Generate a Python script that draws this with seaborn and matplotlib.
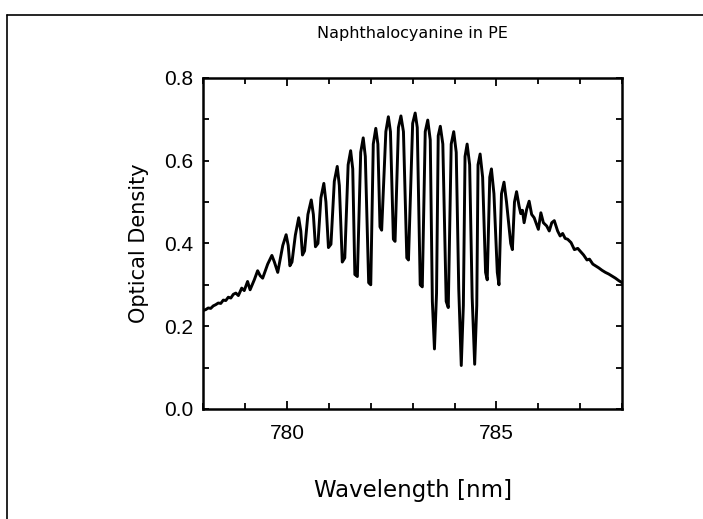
import numpy as np
import pandas as pd
import matplotlib
matplotlib.use('Agg')
import matplotlib.pyplot as plt
from matplotlib.lines import Line2D
from matplotlib.ticker import MultipleLocator, FormatStrFormatter
import seaborn as sns

# spectrum (hole-burning pattern)
wavelength = [
    778.00, 778.06, 778.12, 778.18, 778.24, 778.30, 778.36, 778.42, 778.48, 778.54,
    778.60, 778.66, 778.72, 778.78, 778.84, 778.92, 778.98, 779.06, 779.12, 779.22,
    779.30, 779.36, 779.42, 779.54, 779.64, 779.70, 779.78, 779.90, 779.98, 780.03,
    780.07, 780.12, 780.20, 780.28, 780.33, 780.37, 780.42, 780.50, 780.58, 780.63,
    780.68, 780.74, 780.81, 780.88, 780.93, 780.99, 781.05, 781.13, 781.20, 781.25,
    781.32, 781.38, 781.46, 781.52, 781.57, 781.62, 781.68, 781.76, 781.82, 781.87,
    781.95, 782.00, 782.06, 782.12, 782.17, 782.22, 782.26, 782.36, 782.42, 782.47,
    782.54, 782.58, 782.66, 782.72, 782.78, 782.86, 782.90, 783.00, 783.06, 783.11,
    783.18, 783.23, 783.30, 783.36, 783.42, 783.47, 783.52, 783.57, 783.61, 783.66,
    783.72, 783.80, 783.85, 783.92, 783.98, 784.04, 784.10, 784.16, 784.21, 784.25,
    784.30, 784.36, 784.42, 784.48, 784.53, 784.56, 784.61, 784.67, 784.74, 784.78,
    784.84, 784.88, 784.94, 785.02, 785.06, 785.12, 785.18, 785.24, 785.34, 785.38,
    785.43, 785.48, 785.54, 785.58, 785.62, 785.66, 785.72, 785.78, 785.84, 785.90,
    785.96, 786.00, 786.06, 786.12, 786.20, 786.26, 786.32, 786.38, 786.46, 786.52,
    786.58, 786.64, 786.70, 786.78, 786.86, 786.94, 787.00, 787.08, 787.16, 787.22,
    787.30, 787.38, 787.44, 787.52, 787.60, 787.68, 787.76, 787.84, 787.92, 788.00,
]
optical_density = [
    0.238, 0.240, 0.244, 0.243, 0.249, 0.252, 0.256, 0.255, 0.263, 0.262,
    0.270, 0.268, 0.277, 0.280, 0.274, 0.292, 0.286, 0.308, 0.288, 0.312,
    0.334, 0.322, 0.316, 0.350, 0.371, 0.355, 0.330, 0.395, 0.421, 0.395,
    0.346, 0.355, 0.420, 0.462, 0.430, 0.372, 0.382, 0.470, 0.505, 0.470,
    0.392, 0.400, 0.510, 0.545, 0.500, 0.390, 0.398, 0.550, 0.586, 0.540,
    0.355, 0.365, 0.590, 0.624, 0.580, 0.325, 0.320, 0.620, 0.655, 0.610,
    0.305, 0.300, 0.640, 0.678, 0.640, 0.440, 0.432, 0.670, 0.706, 0.670,
    0.410, 0.405, 0.680, 0.708, 0.670, 0.365, 0.360, 0.690, 0.715, 0.680,
    0.300, 0.295, 0.670, 0.698, 0.650, 0.260, 0.145, 0.280, 0.660, 0.683,
    0.640, 0.260, 0.245, 0.640, 0.670, 0.620, 0.290, 0.105, 0.250, 0.610,
    0.640, 0.590, 0.270, 0.108, 0.250, 0.590, 0.616, 0.560, 0.330, 0.312,
    0.560, 0.580, 0.520, 0.330, 0.300, 0.520, 0.548, 0.500, 0.400, 0.385,
    0.500, 0.525, 0.490, 0.472, 0.480, 0.450, 0.482, 0.502, 0.470, 0.462,
    0.445, 0.434, 0.474, 0.450, 0.442, 0.430, 0.450, 0.455, 0.430, 0.418,
    0.424, 0.412, 0.410, 0.402, 0.385, 0.388, 0.381, 0.372, 0.360, 0.362,
    0.350, 0.345, 0.341, 0.335, 0.330, 0.326, 0.321, 0.316, 0.310, 0.305,
]

title = 'Naphthalocyanine in PE'
x_label = 'Wavelength [nm]'
y_label = 'Optical Density'

sns.set_style('ticks')
plt.rcParams['font.family'] = ['DejaVu Sans']
plt.rcParams['text.color'] = 'black'
plt.rcParams['axes.labelcolor'] = 'black'

df = pd.DataFrame({'wl': wavelength, 'od': optical_density})

fig = plt.figure(figsize=(7.03, 5.19), dpi=100)
ax = fig.add_axes([0.289, 0.212, 0.596, 0.638])

sns.lineplot(data=df, x='wl', y='od', ax=ax, color='black', linewidth=2.1)

ax.set_xlim(778, 788)
ax.set_ylim(0, 0.8)
ax.xaxis.set_major_locator(MultipleLocator(5))
ax.xaxis.set_minor_locator(MultipleLocator(1))
ax.yaxis.set_major_locator(MultipleLocator(0.2))
ax.yaxis.set_minor_locator(MultipleLocator(0.1))
ax.yaxis.set_major_formatter(FormatStrFormatter('%.1f'))

for s in ax.spines.values():
    s.set_visible(True)
    s.set_linewidth(1.8)
    s.set_color('black')

ax.tick_params(which='both', direction='in', top=True, right=True,
               colors='black', width=1.3)
ax.tick_params(axis='x', which='major', length=5.5, pad=11)
ax.tick_params(axis='x', which='minor', length=4)
ax.tick_params(axis='y', which='major', length=4.5, pad=7)
ax.tick_params(axis='y', which='minor', length=4)
for lab in ax.get_xticklabels() + ax.get_yticklabels():
    lab.set_fontfamily('Liberation Sans')
    lab.set_fontsize(15)

ax.set_xlabel(x_label, fontsize=16.5)
ax.set_ylabel(y_label, fontsize=15)
ax.xaxis.set_label_coords(0.5, -0.21)
ax.yaxis.set_label_coords(-0.13, 0.5)
ax.text(0.5, 1.135, title, transform=ax.transAxes, ha='center', va='center',
        fontsize=11.5, color='black')

# scanned page border (left and top edge)
fig.add_artist(Line2D([7 / 703, 7 / 703], [0, 1 - 15 / 519],
                      transform=fig.transFigure, color='black', linewidth=1.2))
fig.add_artist(Line2D([7 / 703, 1], [1 - 15 / 519, 1 - 15 / 519],
                      transform=fig.transFigure, color='black', linewidth=1.2))

fig.savefig('out.png', dpi=100)
